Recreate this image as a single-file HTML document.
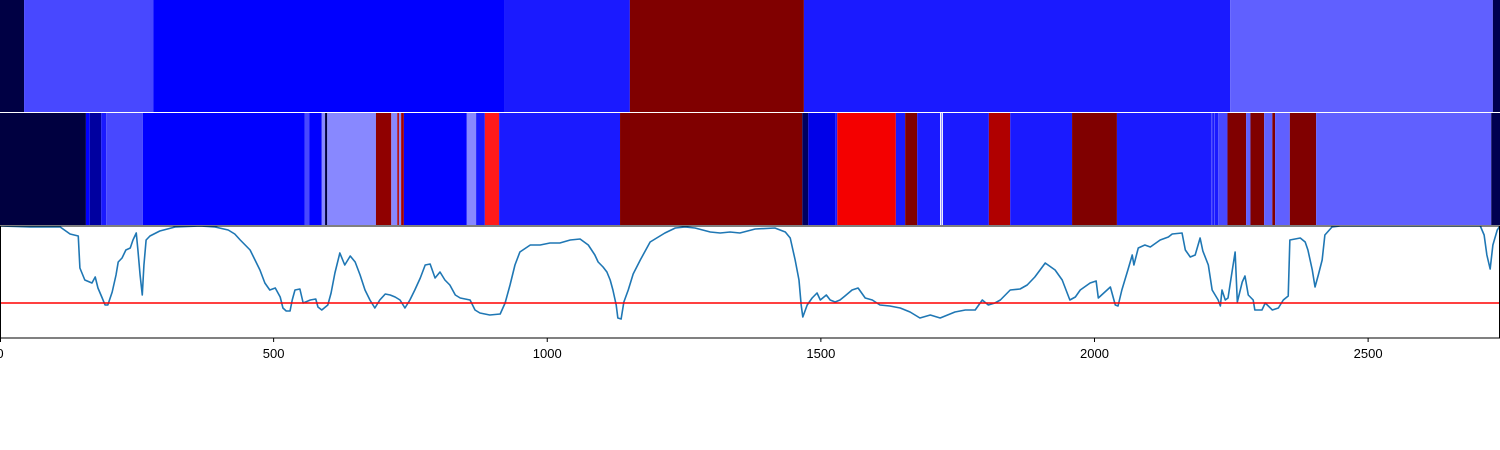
<!DOCTYPE html>
<html><head><meta charset="utf-8">
<style>
html,body{margin:0;padding:0;background:#fff;width:1500px;height:450px;overflow:hidden}
svg{display:block;font-family:"Liberation Sans",sans-serif}
</style></head>
<body>
<svg id="chart" width="1500" height="450" viewBox="0 0 1500 450" xmlns="http://www.w3.org/2000/svg">
<g id="top"></g>
<g id="mid"></g>
<g id="bot"></g>
<g id="axis"></g>
</svg>
<script>
const xMax = 2741;
const xTicks = [0, 500, 1000, 1500, 2000, 2500];
const topStarts = [0, 44, 280, 921, 1151, 1469, 2248, 2728];
const topColors = ["#000044","#4848ff","#0000ff","#1a1aff","#800000","#1a1aff","#6060ff","#000050"];
const midStarts = [0,157,164,185,194,261,557,565,588,594,598,687,715,726,729,733,738,853,870,886,912,1133,1466,1477,1526,1530,1637,1654,1676,1718,1720,1721,1723,1807,1846,1959,2041,2213,2215,2219,2220,2226,2243,2277,2285,2310,2325,2330,2357,2405,2725];
const midColors = ["#000040","#0000ff","#0000a0","#1a1aff","#4848ff","#0000ff","#4848ff","#0000ff","#8888ff","#000040","#8888ff","#900000","#8888ff","#b00000","#8888ff","#a00000","#0000ff","#8888ff","#1a1aff","#ff1a1a","#1a1aff","#800000","#000060","#0000e8","#1a1aff","#f40000","#1a1aff","#800000","#1a1aff","#ffffff","#1a1aff","#ffffff","#1a1aff","#b00000","#1a1aff","#800000","#1a1aff","#4848ff","#1a1aff","#4848ff","#1a1aff","#4848ff","#800000","#6060ff","#800000","#6060ff","#800000","#6060ff","#800000","#6060ff","#000050"];
const lineX = [0,55,110,128,143,146,155,168,174,179,186,192,197,205,212,216,223,230,238,243,249,252,256,260,263,267,274,292,320,366,393,417,429,439,448,457,466,475,484,493,503,512,517,523,530,534,539,548,554,567,577,581,588,599,605,612,621,630,640,649,658,667,676,685,694,704,713,722,731,740,749,758,768,777,786,795,804,813,822,832,841,859,868,877,895,914,
923,932,941,950,969,987,1005,1023,1042,1060,1075,1087,1093,1102,1109,1115,1120,1126,1129,1135,1140,1148,1157,1170,1188,1215,1234,1252,1270,1298,1316,1334,1352,1380,1416,1435,1444,1453,1460,1464,1467,1475,1484,1493,1499,1510,1517,1526,1535,1544,1557,1568,1581,1594,1608,1626,1645,1663,1681,1700,1718,1736,1745,1764,1782,1795,1806,1818,1828,
1846,1864,1877,1891,1910,1928,1941,1955,1965,1974,1992,2003,2007,2019,2029,2038,2043,2050,2061,2069,2072,2080,2092,2102,2120,2135,2142,2160,2166,2175,2184,2193,2198,2208,2215,2226,2230,2233,2239,2244,2251,2257,2261,2270,2275,2281,2290,2293,2306,2312,2325,2336,2345,2354,2357,2376,2385,2390,2398,2403,2409,2416,2421,2434,2449,2485,2559,2632,2705,2712,2717,2723,2728,2736,2741];
const lineY = [112,111,111,104,102,70,58,55,61,50,41,33,33,46,63,76,80,88,90,98,105,88,63,43,73,98,102,107,111,112,111,108,104,98,93,88,78,68,55,48,50,41,30,27,27,38,48,49,35,38,39,31,28,33,45,65,85,73,82,76,63,48,38,30,38,44,43,41,38,30,38,48,60,73,74,60,66,58,53,43,40,38,28,25,23,24,
35,53,73,86,93,93,95,95,98,99,93,83,76,71,66,58,48,33,20,19,36,48,64,78,96,105,110,111,110,106,105,106,105,109,110,106,100,78,58,33,21,33,40,45,38,43,38,36,38,42,48,50,40,38,33,32,30,26,20,23,20,24,26,28,28,38,33,35,38,
48,49,53,61,75,68,58,38,41,48,55,57,40,46,51,33,32,48,68,83,73,90,93,91,98,101,104,105,88,81,83,100,87,73,48,38,32,48,38,40,65,86,36,56,62,43,38,28,28,35,28,30,38,42,98,100,96,88,68,51,63,78,103,111,112,112,112,112,112,103,83,69,93,108,112];
const threshold = [35];
const yMax = 112;

const NS = "http://www.w3.org/2000/svg";
const W = 1500;
const xs = v => v / xMax * W;
const P = {top:[0,112], mid:[113,225], bot:[226,338]};
const ys = v => P.bot[1] - v / yMax * (P.bot[1] - P.bot[0]);
function mk(tag, attrs, parent){const e=document.createElementNS(NS,tag);for(const k in attrs)e.setAttribute(k,attrs[k]);parent.appendChild(e);return e;}

function bands(gid, starts, colors, range){
  const g=document.getElementById(gid);
  for(let i=0;i<starts.length;i++){
    const x0=xs(starts[i]), x1=xs(i+1<starts.length?starts[i+1]:xMax);
    const r=mk('rect',{x:x0,y:range[0],width:Math.max(x1-x0,0.6),height:range[1]-range[0],fill:colors[i]},g);
    
    
  }
}
bands('top', topStarts, topColors, P.top);
bands('mid', midStarts, midColors, P.mid);

const bot=document.getElementById('bot');
const bg=mk('rect',{x:0,y:P.bot[0],width:W,height:P.bot[1]-P.bot[0],fill:'#fff'},bot);


let d='';
for(let i=0;i<lineX.length;i++){d+=(i?'L':'M')+xs(lineX[i]).toFixed(2)+' '+ys(lineY[i]).toFixed(2);}
const clip=mk('clipPath',{id:'cb'},bot);mk('rect',{x:0,y:P.bot[0],width:W,height:P.bot[1]-P.bot[0]},clip);
const ln=mk('path',{d:d,fill:'none',stroke:'#1f77b4','stroke-width':1.6,'stroke-linejoin':'round','clip-path':'url(#cb)'},bot);


const th=mk('line',{x1:0,x2:W,y1:ys(threshold[0]),y2:ys(threshold[0]),stroke:'#ff0000','stroke-width':1.6},bot);


const fr=mk('rect',{x:0.5,y:P.bot[0],width:W-1,height:P.bot[1]-P.bot[0],fill:'none',stroke:'#000','stroke-width':1},bot);



const ax=document.getElementById('axis');
for(const t of xTicks){
  const x=Math.max(xs(t),0.5);
  const tk=mk('line',{x1:x,x2:x,y1:P.bot[1],y2:P.bot[1]+4,stroke:'#000','stroke-width':1},ax);
  
  
  const tx=mk('text',{x:xs(t),y:P.bot[1]+20,'text-anchor':'middle','font-size':13,fill:'#000'},ax);
  tx.textContent=t;
  
  
}
</script>
</body></html>
